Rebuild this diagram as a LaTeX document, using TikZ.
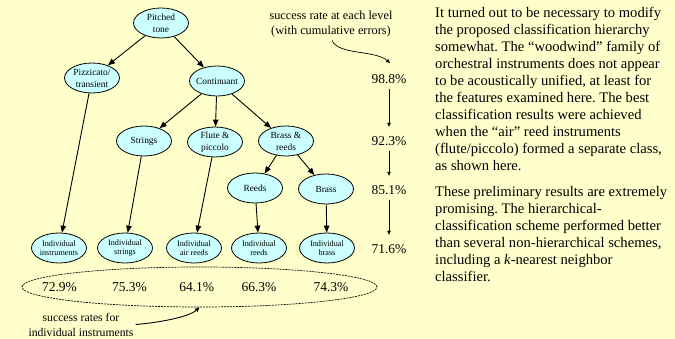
\documentclass[tikz,border=0pt]{standalone}
\usepackage{fontspec}
\setmainfont{Liberation Serif}
\usetikzlibrary{shapes.geometric,arrows.meta}
\definecolor{bgc}{RGB}{255,255,204}
\definecolor{nodec}{RGB}{204,255,255}
\frenchspacing
\tikzset{
  cls/.style={ellipse, draw=black, line width=0.8pt, fill=nodec, inner xsep=-3pt, inner ysep=-1pt,
    minimum width=55pt, minimum height=30pt, align=center, font=\fontsize{9.4}{12}\selectfont},
  leaf/.style={cls, font=\fontsize{8.2}{8.7}\selectfont},
  tedge/.style={-{Triangle[length=7pt,width=5.5pt]}, line width=0.9pt},
  pct/.style={font=\fontsize{13.5}{15}\selectfont, inner sep=0pt, text height=9pt, text depth=0pt},
  pctarrow/.style={-{Triangle[length=4pt,width=3.5pt]}, line width=0.6pt, shorten <=5pt, shorten >=9.5pt},
  note/.style={align=center, inner sep=0pt},
  para/.style={align=left, inner sep=0pt, anchor=north west, font=\fontsize{14.6}{17}\selectfont}
}
\begin{document}
\begin{tikzpicture}[x=1pt,y=-1pt]
\fill[bgc] (0,0) rectangle (675,339);
\useasboundingbox (0,0) rectangle (675,339);

% hierarchy
\node[cls] (pt) at (161,23) {Pitched\\tone};
\node[cls] (piz) at (92,78) {Pizzicato/\\transient};
\node[cls] (cont) at (217,81) {Continuant};
\node[cls] (str) at (144,141) {Strings};
\node[cls] (flu) at (215,142) {Flute \&\\piccolo};
\node[cls] (br) at (286,141) {Brass \&\\reeds};
\node[cls] (reeds) at (255,188) {Reeds};
\node[cls] (brass) at (326,189) {Brass};
\node[leaf] (ii) at (59,248) {Individual\\instruments};
\node[leaf] (is) at (125,248) {Individual\\strings};
\node[leaf] (ia) at (194,248) {Individual\\air reeds};
\node[leaf] (ir) at (259,248) {Individual\\reeds};
\node[leaf] (ib) at (327,248) {Individual\\brass};

\draw[tedge] (pt) -- (piz);
\draw[tedge] (pt) -- (cont);
\draw[tedge] (cont) -- (str);
\draw[tedge] (cont) -- (flu);
\draw[tedge] (cont) -- (br);
\draw[tedge] (br) -- (reeds);
\draw[tedge] (br) -- (brass);
\draw[tedge] (piz) -- (ii);
\draw[tedge] (str) -- (is);
\draw[tedge] (flu) -- (ia);
\draw[tedge] (reeds) -- (ir);
\draw[tedge] (brass) -- (ib);

% level success rates
\node[note, font=\fontsize{12.3}{15}\selectfont] (tlab) at (331,24.5) {success rate at each level\\(with cumulative errors)};
\node[pct] (p1) at (389,79) {98.8\%};
\node[pct] (p2) at (389,141) {92.3\%};
\node[pct] (p3) at (389,190) {85.1\%};
\node[pct] (p4) at (389,249) {71.6\%};
\draw[pctarrow] (p1.south) -- (p2.north);
\draw[pctarrow] (p2.south) -- (p3.north);
\draw[pctarrow] (p3.south) -- (p4.north);
\coordinate (t1) at (390,63);
\draw[-{Triangle[length=4pt,width=3.5pt]}, line width=0.7pt, shorten <=3pt] (tlab.south) .. controls (338,55) and (375,50) .. (t1);

% individual success rates
\node[ellipse, draw, dash pattern=on 2pt off 1pt, line width=0.7pt, minimum width=355pt, minimum height=40pt, inner sep=0pt] (ring) at (199.5,287) {};
\node[pct] (q1) at (59.5,287) {72.9\%};
\node[pct] (q2) at (129.5,287) {75.3\%};
\node[pct] (q3) at (196.7,287) {64.1\%};
\node[pct] (q4) at (259,287) {66.3\%};
\node[pct] (q5) at (331,287) {74.3\%};
\node[note, inner sep=2pt, font=\fontsize{11.7}{15}\selectfont] (blab) at (81,324.5) {success rates for\\individual instruments};
\draw[-{Triangle[length=4.5pt,width=4pt]}, line width=0.9pt] (blab.east) .. controls (165,322) and (190,316) .. (ring.south);

% text
\node[para] (tx1) at (435,6.8) {It turned out to be necessary to modify\\
the proposed classification hierarchy\\
somewhat. The “woodwind” family of\\
orchestral instruments does not appear\\
to be acoustically unified, at least for\\
the features examined here. The best\\
classification results were achieved\\
when the “air” reed instruments\\
(flute/piccolo) formed a separate class,\\
as shown here.};
\node[para] (tx2) at (435,185.8) {These preliminary results are extremely\\
promising. The hierarchical-\\
classification scheme performed better\\
than several non-hierarchical schemes,\\
including a \textit{k}-nearest neighbor\\
classifier.};
\end{tikzpicture}
\end{document}
